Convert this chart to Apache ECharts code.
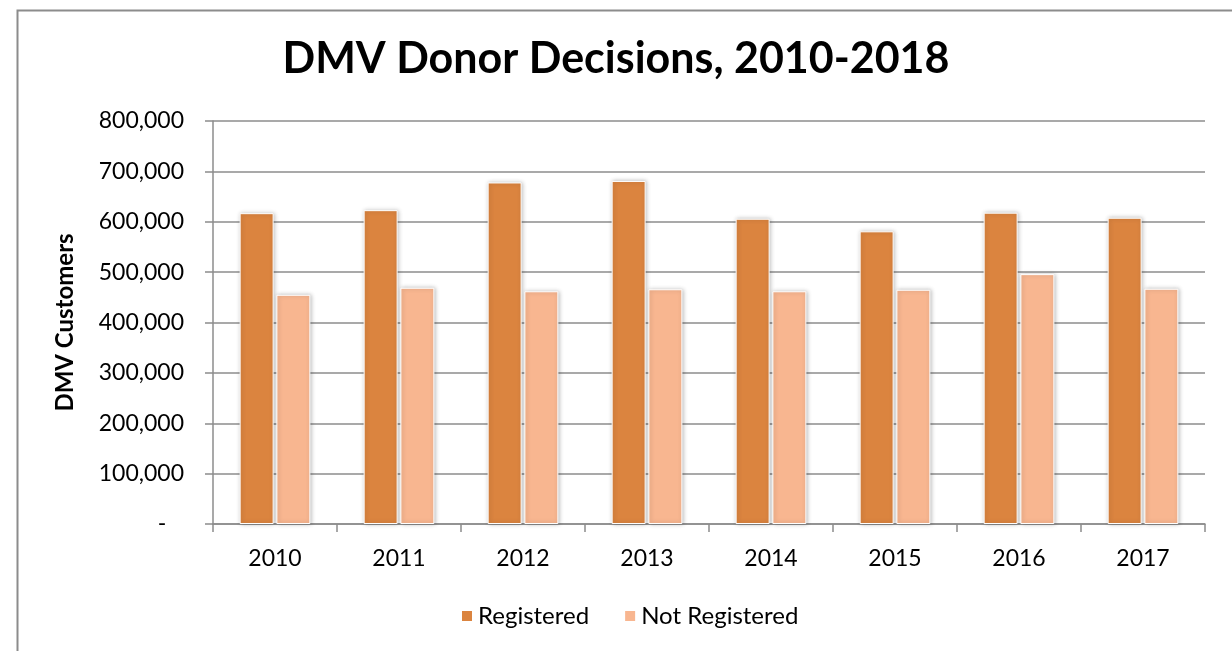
<!DOCTYPE html>
<html>
<head>
<meta charset="utf-8">
<title>DMV Donor Decisions</title>
<script src="https://cdn.jsdelivr.net/npm/echarts@6/dist/echarts.min.js"></script>
<style>
  html, body { margin: 0; padding: 0; background: #fff; }
  #chart { width: 1232px; height: 651px; }
</style>
</head>
<body>
<div id="chart"></div>
<script>
// data
var years = ['2010', '2011', '2012', '2013', '2014', '2015', '2016', '2017']
var registered = [617000, 623000, 678000, 681000, 606000, 581000, 618000, 608000]
var notRegistered = [455000, 469000, 462000, 466000, 462000, 465000, 496000, 467000]
var yTicks = [0, 100000, 200000, 300000, 400000, 500000, 600000, 700000, 800000]

var font = 'Lato, "Open Sans", sans-serif'

var myChart = echarts.init(document.getElementById('chart'))

var option = {
  backgroundColor: '#fff',
  animation: false,
  // outer chart border, open to the right/bottom like the screenshot
  graphic: [
    {
      type: 'rect',
      left: 15,
      top: 8,
      shape: { width: 1260, height: 700 },
      style: { fill: 'none', stroke: '#8c8c8c', lineWidth: 2 },
      silent: true
    }
  ],
  title: {
    text: 'DMV Donor Decisions, 2010-2018',
    left: 'center',
    top: 33,
    textStyle: {
      fontFamily: font,
      fontWeight: 'bold',
      fontSize: 43,
      color: '#000'
    }
  },
  legend: {
    data: ['Registered', 'Not Registered'],
    left: 455,
    top: 599,
    itemWidth: 12,
    itemHeight: 12,
    itemGap: 34,
    icon: 'rect',
    textStyle: {
      fontFamily: font,
      fontSize: 24,
      color: '#000'
    }
  },
  grid: {
    left: 213,
    right: 27,
    top: 121,
    bottom: 127
  },
  xAxis: {
    type: 'category',
    data: years,
    axisLine: { lineStyle: { color: '#8c8c8c', width: 1.5 } },
    axisTick: { show: true, length: 8, lineStyle: { color: '#8c8c8c', width: 1.5 } },
    axisLabel: {
      margin: 23,
      fontFamily: font,
      fontSize: 23,
      color: '#000'
    }
  },
  yAxis: {
    type: 'value',
    min: 0,
    max: yTicks[yTicks.length - 1],
    interval: yTicks[1] - yTicks[0],
    name: 'DMV Customers',
    nameLocation: 'middle',
    nameGap: 136,
    nameRotate: 90,
    nameTextStyle: {
      fontFamily: font,
      fontWeight: 'bold',
      fontSize: 24,
      color: '#000'
    },
    axisLine: { show: true, lineStyle: { color: '#8c8c8c', width: 1.5 } },
    axisTick: { show: true, length: 8, lineStyle: { color: '#8c8c8c', width: 1.5 } },
    splitLine: { lineStyle: { color: '#8c8c8c', width: 1.5 } },
    axisLabel: {
      margin: 29,
      fontFamily: font,
      fontSize: 23,
      color: '#000',
      formatter: function (v) {
        if (v === 0) return '-   '
        return v.toString().replace(/\B(?=(\d{3})+(?!\d))/g, ',')
      }
    }
  },
  series: [
    {
      name: 'Registered',
      type: 'bar',
      data: registered,
      barWidth: 34,
      barGap: '8%',
      itemStyle: {
        color: '#db843f',
        borderColor: '#fff',
        borderWidth: 1,
        shadowBlur: 4,
        shadowColor: 'rgba(0, 0, 0, 0.25)',
        shadowOffsetX: 1
      }
    },
    {
      name: 'Not Registered',
      type: 'bar',
      data: notRegistered,
      barWidth: 34,
      itemStyle: {
        color: '#f8b690',
        borderColor: '#fff',
        borderWidth: 1,
        shadowBlur: 4,
        shadowColor: 'rgba(0, 0, 0, 0.25)',
        shadowOffsetX: 1
      }
    }
  ]
}

myChart.setOption(option)
</script>
</body>
</html>
